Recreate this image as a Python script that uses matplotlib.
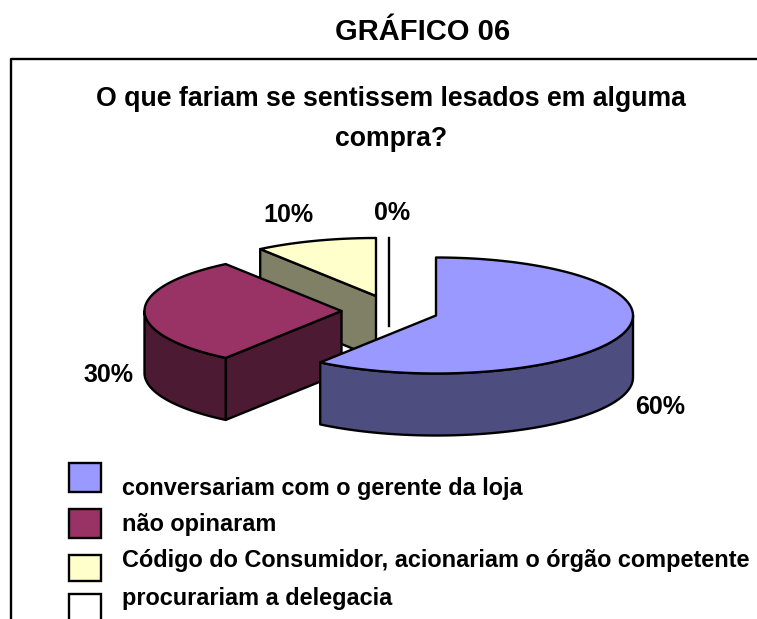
import numpy as np
import matplotlib
matplotlib.use("Agg")
import matplotlib.pyplot as plt
from matplotlib.patches import Polygon, Rectangle

plt.rcParams['font.family'] = ['Liberation Sans', 'DejaVu Sans']

title = "GRÁFICO 06"
subtitle = "O que fariam se sentissem lesados em alguma\ncompra?"
categories = ["conversariam com o gerente da loja", "não opinaram",
              "Código do Consumidor, acionariam o órgão competente",
              "procurariam a delegacia"]
values = [60, 30, 10, 0]
value_labels = ["60%", "30%", "10%", "0%"]

top_colors = ["#9999FF", "#993366", "#FFFFCC", "#FFFFFF"]
side_colors = ["#4D4D80", "#4D1A33", "#808066", "#808080"]
centers = [(436, 315.5), (341.5, 311), (376, 296), (389, 296)]
draw_order = [2, 3, 1, 0]
label_pos = [(660, 407), (108, 375), (288, 215), (392, 213)]
RX, RY, DEPTH = 197, 58, 62
LW = 1.7

fig = plt.figure(figsize=(7.57, 6.19), dpi=100)
ax = fig.add_axes([0, 0, 1, 1])
ax.set_xlim(0, 757)
ax.set_ylim(619, 0)
ax.axis("off")


def rim(c, t):
    t = np.radians(t)
    return np.column_stack([c[0] + RX * np.sin(t), c[1] - RY * np.cos(t)])


def shifted(p):
    return p + np.array([0, DEPTH])


# slices, driven by the values
edges = np.concatenate([[0], np.cumsum(values)]) / sum(values) * 360
for i in draw_order:
    t0, t1 = edges[i], edges[i + 1]
    c = centers[i]
    ec = "black"
    if t1 - t0 < 1e-9:
        a = rim(c, [t0])[0]
        ax.plot([a[0], a[0]], [a[1], c[1] + 30], color=ec, lw=LW, zorder=1)
        continue
    cen = np.array([c])
    # visible cut face
    if np.sin(np.radians(t0)) < 0:
        p = rim(c, [t0])
        ax.add_patch(Polygon(np.vstack([cen, p, shifted(p), shifted(cen)]),
                             fc=side_colors[i], ec=ec, lw=LW, joinstyle="round"))
    # outer visible rim
    a, b = max(t0, 90), min(t1, 270)
    if b > a:
        p = rim(c, np.linspace(a, b, 80))
        ax.add_patch(Polygon(np.vstack([p, shifted(p)[::-1]]),
                             fc=side_colors[i], ec=ec, lw=LW, joinstyle="round"))
    # top face
    p = rim(c, np.linspace(t0, t1, 120))
    ax.add_patch(Polygon(np.vstack([cen, p]), fc=top_colors[i], ec=ec, lw=LW, joinstyle="round"))

# frame clipped by the picture edges
ax.plot([757, 10.5, 10.5], [58.5, 58.5, 619], color="black", lw=LW, clip_on=True)

txt = dict(ha="center", va="center", fontweight="bold", color="black")
ax.text(423, 32, title, fontsize=21, **txt)
ax.text(391, 119, subtitle, fontsize=19.2, linespacing=1.71, **txt)
for s, (x, y) in zip(value_labels, label_pos):
    ax.text(x, y, s, fontsize=18, **txt)

# legend
sw_y = [463, 509, 555, 594]
sw_h = [29, 29, 26, 29]
tx_y = [489, 524, 561, 599]
for i, cat in enumerate(categories):
    ax.add_patch(Rectangle((68.5, sw_y[i]), 32, sw_h[i], fc=top_colors[i], ec="black", lw=LW))
    ax.text(122, tx_y[i], cat, fontsize=16.95, ha="left", va="center", fontweight="bold", color="black")

fig.savefig("out.png", dpi=100)
